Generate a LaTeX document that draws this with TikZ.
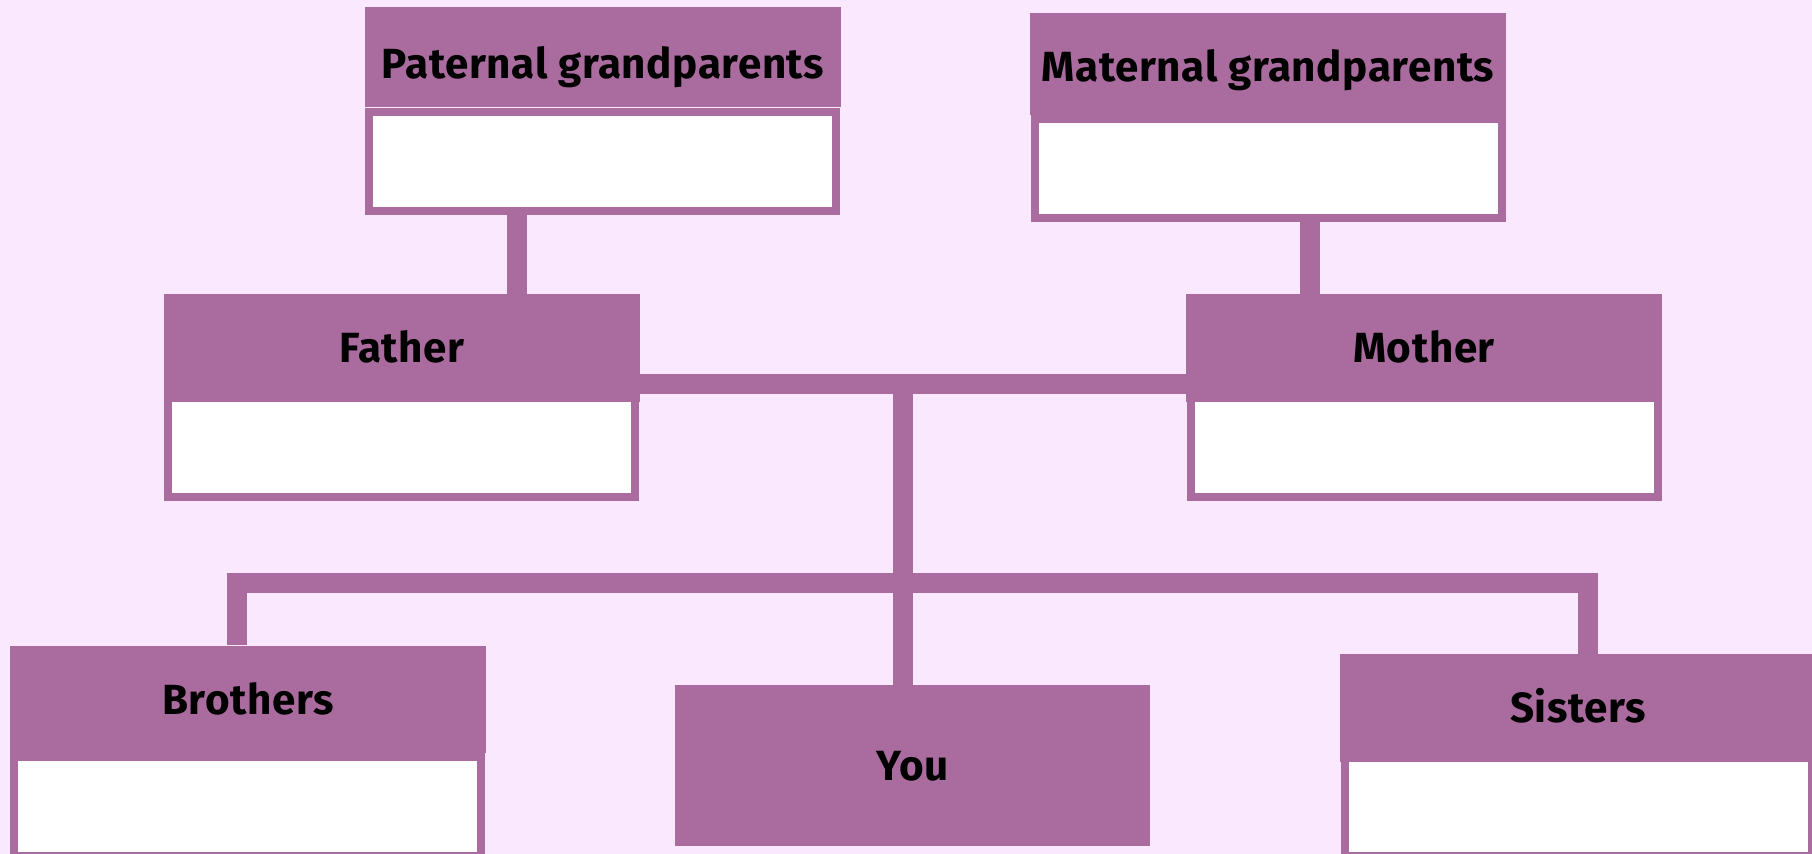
\documentclass[tikz,border=0pt]{standalone}
\usepackage{fontspec}
\setmainfont{Fira Sans}[LetterSpace=1.5]
\usetikzlibrary{positioning, calc}
\definecolor{plumcol}{HTML}{AA6B9E}
\definecolor{paperbg}{HTML}{FAE8FE}

\begin{document}
\begin{tikzpicture}[
    x=0.02cm, y=-0.02cm,
    every node/.style={font=\bfseries\fontsize{24}{28}\selectfont},
    head/.style={
        fill=plumcol, minimum width=9.52cm, minimum height=2.16cm,
        inner sep=0pt, text height=0.58cm, text depth=0pt, text=black
    },
    slot/.style={
        draw=plumcol, fill=white, line width=0.17cm,
        minimum width=9.35cm, minimum height=1.99cm, inner sep=0pt
    },
    link/.style={draw=plumcol, line width=0.4cm},
]

% ===== Page =====
\useasboundingbox (0,0) rectangle (1812,854);
\fill[paperbg] (0,0) rectangle (1812,854);
\clip (0,0) rectangle (1812,854);

% ===== Row 1: Grandparents =====
\node[slot] (patslot) at (602.5,161.5) {};
\node[head, minimum height=2cm, text height=0.86cm] (patgp) at (603,57) {Paternal grandparents};

\node[slot] (matslot) at (1268.5,168.5) {};
\node[head, minimum height=2.04cm, text height=0.72cm] (matgp) at (1268,64) {Maternal grandparents};

% ===== Row 2: Parents =====
\node[slot] (dadslot) at (401.5,447.5) {};
\node[head] (father) at (402,348) {Father};

\node[slot] (momslot) at (1424.5,447.5) {};
\node[head] (mother) at (1424,348) {Mother};

% ===== Row 3: Siblings & you =====
\node[slot] (broslot) at (247.5,806.5) {};
\node[head, text height=0.62cm] (brothers) at (248,699.5) {Brothers};

\node[head, minimum height=3.22cm] (you) at (912.5,765.5) {You};

\node[slot] (sisslot) at (1578.5,807) {};
\node[head] (sisters) at (1578,708) {Sisters};

% ===== CONNECTORS =====
\coordinate (patdrop) at (517,0);
\coordinate (matdrop) at (1309.5,0);
\coordinate (knot) at (903,384);
\coordinate (brodrop) at (237,0);
\coordinate (sisdrop) at (1588,0);
\coordinate (lowbar) at (0,583);

% Grandparents down to parents
\draw[link] (patdrop |- patslot.south) -- (patdrop |- father.north);
\draw[link] (matdrop |- matslot.south) -- (matdrop |- mother.north);

% Parents joined, trunk down to you
\draw[link] (knot -| father.east) -- (knot -| mother.west);
\draw[link] (knot) -- (knot |- you.north);

% Sibling bar
\draw[link] (brodrop |- brothers.north) |- (sisdrop |- lowbar) -- (sisdrop |- sisters.north);

\end{tikzpicture}
\end{document}
